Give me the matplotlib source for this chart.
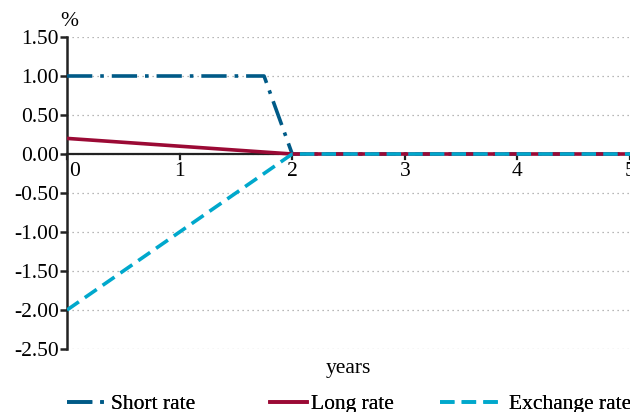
import matplotlib.pyplot as plt
import numpy as np

plt.rcParams['font.family'] = ['Liberation Serif', 'DejaVu Serif']

years = [0, 0.25, 0.5, 0.75, 1.0, 1.25, 1.5, 1.75, 2.0, 3.0, 4.0, 5.0]
short_rate = [1.0, 1.0, 1.0, 1.0, 1.0, 1.0, 1.0, 1.0, 0.0, 0.0, 0.0, 0.0]
long_rate = [0.2, 0.175, 0.15, 0.125, 0.1, 0.075, 0.05, 0.025, 0.0, 0.0, 0.0, 0.0]
exchange_rate = [-2.0, -1.75, -1.5, -1.25, -1.0, -0.75, -0.5, -0.25, 0.0, 0.0, 0.0, 0.0]

fig = plt.figure(figsize=(6.3, 4.12), dpi=100)
ax = fig.add_axes([67/630, 63/412, 563/630, 312/412])

yt = np.arange(-2.5, 1.51, 0.5)
for v in yt:
    ax.axhline(v, color='#a0a0a0', lw=0.9, ls=(0, (1, 3)), zorder=0)

l1, = ax.plot(years, short_rate, color='#005a87', lw=2.6, ls=(0, (7, 2.2, 1, 2.2)), label='Short rate', zorder=3)
l2, = ax.plot(years, long_rate, color='#9b0a35', lw=2.6, label='Long rate', zorder=3)
l3, = ax.plot(years, exchange_rate, color='#00a8cc', lw=2.6, ls=(0, (4, 2)), label='Exchange rate', zorder=4)

ax.axhline(0, color='#222222', lw=1.6, zorder=2)

ax.set_xlim(0, 5)
ax.set_ylim(-2.5, 1.5)
ax.set_yticks(yt)
ax.set_yticklabels(['%.2f' % v for v in yt], fontsize=15.5)
ax.set_xticks([])

for s in ['top', 'right', 'bottom']:
    ax.spines[s].set_visible(False)
ax.spines['left'].set_linewidth(1.8)
ax.spines['left'].set_color('#222222')
ax.tick_params(axis='y', length=5, width=1.8, color='#222222', pad=1)

# x ticks drawn on the zero line
for x in range(0, 6):
    ax.plot([x, x], [0, -0.06], color='#222222', lw=1.6, clip_on=False, zorder=2)
    ax.text(x + (0.07 if x == 0 else 0), -0.1, str(x), ha='center', va='top', fontsize=15.5)

ax.text(0.02, 1.58, '%', ha='center', va='bottom', fontsize=15.5)
fig.text(348/630, 1 - 369/412, 'years', ha='center', va='center', fontsize=15.5)

# legend entries placed one by one, like the reference
for line, x0, hl in [(l1, 67, 1.85), (l2, 270, 1.7), (l3, 440, 3.0)]:
    leg = fig.legend(handles=[line], loc='center left', bbox_to_anchor=(x0/630, 1 - 404/412),
                     frameon=False, fontsize=15.5, handlelength=hl,
                     handletextpad=0.2, borderaxespad=0, borderpad=0)
    fig.add_artist(leg)

fig.savefig('out.png', dpi=100)
